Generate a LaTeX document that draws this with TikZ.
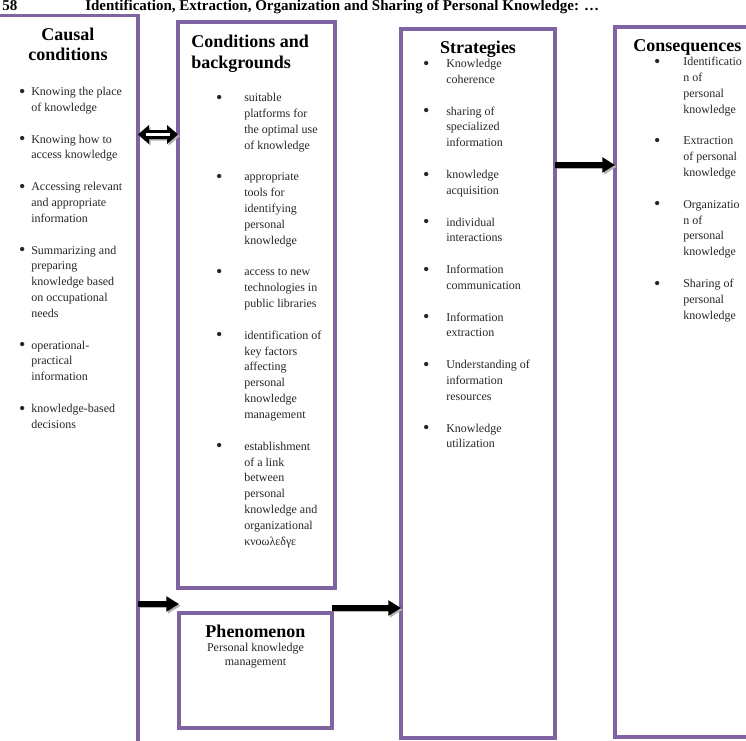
\documentclass[tikz,border=0pt]{standalone}
\usepackage{fontspec}
\usepackage{graphicx}
\setmainfont{Liberation Serif}
\usetikzlibrary{arrows.meta,calc}
\definecolor{boxpurple}{HTML}{8064A2}
\newcommand\mybul[1]{\llap{\smash{\raisebox{-1.2pt}{\scalebox{1.5}{\textbullet}}}\hspace{#1}}}
\newcommand\itemgap{\\[11.8875pt]}
\begin{document}
\begin{tikzpicture}[x=0.75pt,y=-0.75pt,
  box/.style={draw=boxpurple, line width=2.3pt, inner sep=0pt, outer sep=0pt, anchor=north west},
  boxtitle/.style={font=\fontsize{13.5pt}{16pt}\selectfont\bfseries, inner sep=0pt},
  items/.style={font=\fontsize{9pt}{11.8875pt}\selectfont, text=black!85, align=left, inner sep=0pt, anchor=base west},
  bigarrow/.style={line width=3.8pt, -{Triangle[length=9.5pt,width=11pt]}},
  arrowshadow/.style={draw=black!30, transform canvas={xshift=1.3pt,yshift=-1.3pt}},
  hdr/.style={font=\fontsize{11.25pt}{13pt}\selectfont\bfseries, inner sep=0pt, anchor=base west},
]
\useasboundingbox (0,0) rectangle (746,740);

% header
\node[hdr] (pagenum) at (2,10.5) {58};
\node[hdr] (header) at (85,10.5) {Identification, Extraction, Organization and Sharing of Personal Knowledge: …};

% boxes
\node[box, minimum width=118.5pt, minimum height=558.4pt] (causal) at (-20,15.5) {};
\node[box, minimum width=117.75pt, minimum height=424.5pt] (cond) at (178,22) {};
\node[box, minimum width=114.75pt, minimum height=86.25pt] (phen) at (179,613) {};
\node[box, minimum width=115.5pt, minimum height=531.75pt] (strat) at (401,29) {};
\node[box, minimum width=120pt, minimum height=532.5pt] (cons) at (615,27) {};

% titles
\node[boxtitle, anchor=base] (causalT1) at (68,40) {Causal};
\node[boxtitle, anchor=base] (causalT2) at (68,60) {conditions};
\node[boxtitle, anchor=base west] (condT1) at (191,47) {Conditions and};
\node[boxtitle, anchor=base west] (condT2) at (191,68) {backgrounds};
\node[boxtitle, anchor=base] (stratT) at (478,53) {Strategies};
\node[boxtitle, anchor=base west] (consT) at (633,51) {Consequences};
\node[boxtitle, anchor=base] (phenT) at (255.5,637) {Phenomenon};
\node[font=\fontsize{9pt}{10.35pt}\selectfont, text=black!85, inner sep=0pt, anchor=base] (phenB1) at (255.5,651) {Personal knowledge};
\node[font=\fontsize{9pt}{10.35pt}\selectfont, text=black!85, inner sep=0pt, anchor=base] (phenB2) at (255.5,665) {management};

% item lists (anchored at the baseline of their last line)
\node[items] (causalItems) at (31,428.35) {%
\mybul{4.4pt}Knowing the place\\of knowledge\itemgap
\mybul{4.4pt}Knowing how to\\access knowledge\itemgap
\mybul{4.4pt}Accessing relevant\\and appropriate\\information\itemgap
\mybul{4.4pt}Summarizing and\\preparing\\knowledge based\\on occupational\\needs\itemgap
\mybul{4.4pt}operational-\\practical\\information\itemgap
\mybul{4.4pt}knowledge-based\\decisions};

\node[items] (condItems) at (244,545.3) {%
\mybul{16.4pt}suitable\\platforms for\\the optimal use\\of knowledge\itemgap
\mybul{16.4pt}appropriate\\tools for\\identifying\\personal\\knowledge\itemgap
\mybul{16.4pt}access to new\\technologies in\\public libraries\itemgap
\mybul{16.4pt}identification of\\key factors\\affecting\\personal\\knowledge\\management\itemgap
\mybul{16.4pt}establishment\\of a link\\between\\personal\\knowledge and\\organizational\\κνοωλεδγε};

\node[items] (stratItems) at (446,447.9) {%
\mybul{12.6pt}Knowledge\\coherence\itemgap
\mybul{12.6pt}sharing of\\specialized\\information\itemgap
\mybul{12.6pt}knowledge\\acquisition\itemgap
\mybul{12.6pt}individual\\interactions\itemgap
\mybul{12.6pt}Information\\communication\itemgap
\mybul{12.6pt}Information\\extraction\itemgap
\mybul{12.6pt}Understanding of\\information\\resources\itemgap
\mybul{12.6pt}Knowledge\\utilization};

\node[items] (consItems) at (683,319.1) {%
\mybul{17.1pt}Identificatio\\n of\\personal\\knowledge\itemgap
\mybul{17.1pt}Extraction\\of personal\\knowledge\itemgap
\mybul{17.1pt}Organizatio\\n of\\personal\\knowledge\itemgap
\mybul{17.1pt}Sharing of\\personal\\knowledge};

% connector end points
\coordinate (dl) at (causal.east |- 0,134.5);
\coordinate (dr) at (cond.west |- 0,134.5);
\coordinate (a1s) at (causal.east |- 0,604);
\coordinate (a1e) at (phen.west |- 0,604);
\coordinate (a2s) at (phen.east |- 0,608);
\coordinate (a2e) at (strat.west |- 0,608);
\coordinate (a3s) at (strat.east |- 0,165);
\coordinate (a3e) at (cons.west |- 0,165);

% double arrow (causal <-> conditions)
\fill[black!30, transform canvas={xshift=1.3pt,yshift=-1.3pt}] (dl) -- ($(dl)+(11,-9.5)$) -- ($(dl)+(11,-4.5)$) -- ($(dr)+(-11,-4.5)$) -- ($(dr)+(-11,-9.5)$) -- (dr) -- ($(dr)+(-11,9.5)$) -- ($(dr)+(-11,4.5)$) -- ($(dl)+(11,4.5)$) -- ($(dl)+(11,9.5)$) -- cycle;
\fill[black] (dl) -- ($(dl)+(11,-9.5)$) -- ($(dl)+(11,-4.5)$) -- ($(dr)+(-11,-4.5)$) -- ($(dr)+(-11,-9.5)$) -- (dr) -- ($(dr)+(-11,9.5)$) -- ($(dr)+(-11,4.5)$) -- ($(dl)+(11,4.5)$) -- ($(dl)+(11,9.5)$) -- cycle;
\fill[white] ($(dl)+(8,-1.3)$) rectangle ($(dr)+(-8,1.3)$);

% single arrows
\draw[bigarrow, arrowshadow] (a1s) -- (a1e);
\draw[bigarrow] (a1s) -- (a1e);
\draw[bigarrow, arrowshadow] (a2s) -- (a2e);
\draw[bigarrow] (a2s) -- (a2e);
\draw[bigarrow, arrowshadow] (a3s) -- (a3e);
\draw[bigarrow] (a3s) -- (a3e);
\end{tikzpicture}
\end{document}
